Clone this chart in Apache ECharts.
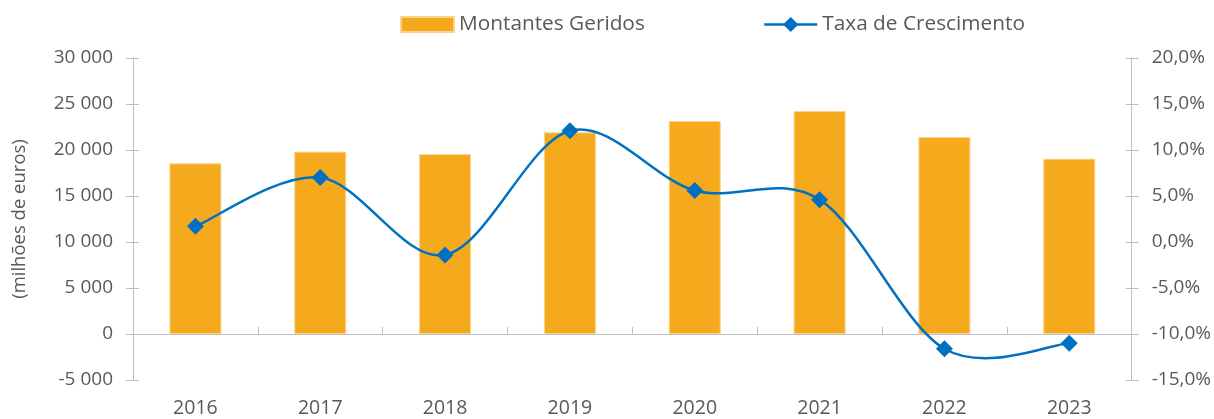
<!DOCTYPE html>
<html>
<head>
<meta charset="utf-8">
<script src="https://cdn.jsdelivr.net/npm/echarts@6/dist/echarts.min.js"></script>
<style>
  html, body { margin: 0; padding: 0; background: #fff; }
  #chart { width: 1214px; height: 419px; }
</style>
</head>
<body>
<div id="chart"></div>
<script>
// dados
var years = ["2016", "2017", "2018", "2019", "2020", "2021", "2022", "2023"];
var montantes = [18550, 19820, 19560, 21920, 23150, 24240, 21410, 19060];
var crescimento = [1.7, 7.0, -1.4, 12.1, 5.6, 4.6, -11.6, -11.0];

var textColor = "#595959";
var axisColor = "#bfbfbf";
var lineColor = "#0070C0";
var font = "Open Sans";

function fmtMilhares(v) {
  var s = String(Math.abs(v)).replace(/\B(?=(\d{3})+(?!\d))/g, " ");
  return (v < 0 ? "-" : "") + s;
}
function fmtPct(v) {
  return v.toFixed(1).replace(".", ",") + "%";
}

// curva suavizada (bezier tipo Excel) entre pontos consecutivos
function renderCurve(params, api) {
  var i = params.dataIndexInside;
  var n = params.dataInsideLength;
  if (i >= n - 1) return null;
  function pt(k) {
    k = Math.max(0, Math.min(n - 1, k));
    return api.coord([api.value(0, k), api.value(1, k)]);
  }
  var p0 = pt(i - 1), p1 = pt(i), p2 = pt(i + 1), p3 = pt(i + 2);
  var t = 1 / 6;
  return {
    type: "bezierCurve",
    shape: {
      x1: p1[0], y1: p1[1],
      x2: p2[0], y2: p2[1],
      cpx1: p1[0] + (p2[0] - p0[0]) * t,
      cpy1: p1[1] + (p2[1] - p0[1]) * t,
      cpx2: p2[0] - (p3[0] - p1[0]) * t,
      cpy2: p2[1] - (p3[1] - p1[1]) * t
    },
    style: { stroke: lineColor, lineWidth: 2.5, fill: null }
  };
}

var chart = echarts.init(document.getElementById("chart"));
chart.setOption({
  animation: false,
  textStyle: { fontFamily: font },
  legend: [
    {
      left: 395,
      top: 9,
      itemWidth: 53,
      itemHeight: 15,
      textStyle: { color: textColor, fontSize: 20.8, fontFamily: font },
      data: [{ name: "Montantes Geridos", icon: "rect" }]
    },
    {
      left: 758,
      top: 9,
      itemWidth: 53,
      itemHeight: 19,
      textStyle: { color: textColor, fontSize: 20.8, fontFamily: font },
      data: [{
        name: "Taxa de Crescimento",
        lineStyle: { color: lineColor, width: 2.5, opacity: 1 }
      }]
    }
  ],
  grid: { left: 133, right: 82, top: 58, bottom: 39 },
  xAxis: [
    {
      type: "category",
      data: years,
      position: "bottom",
      axisLine: { show: false, onZero: false },
      axisTick: { show: false },
      axisLabel: { color: textColor, fontSize: 19.5, margin: 18 }
    },
    {
      type: "category",
      data: years,
      axisLine: { onZero: true, onZeroAxisIndex: 0, lineStyle: { color: axisColor } },
      axisTick: { show: true, length: 7, lineStyle: { color: axisColor } },
      axisLabel: { show: false }
    },
    {
      type: "category",
      data: years,
      position: "bottom",
      axisLine: { show: false, onZero: true, onZeroAxisIndex: 0 },
      axisTick: { show: true, inside: true, length: 7, lineStyle: { color: axisColor } },
      axisLabel: { show: false }
    }
  ],
  yAxis: [
    {
      type: "value",
      min: -5000,
      max: 30000,
      interval: 5000,
      name: "(milhões de euros)",
      nameLocation: "middle",
      nameGap: 104,
      nameTextStyle: { color: textColor, fontSize: 18.5 },
      splitLine: { show: false },
      axisLine: { show: true, lineStyle: { color: axisColor } },
      axisTick: { show: true, length: 7, lineStyle: { color: axisColor } },
      axisLabel: { color: textColor, fontSize: 19, margin: 20, formatter: fmtMilhares }
    },
    {
      type: "value",
      min: -15,
      max: 20,
      interval: 5,
      position: "right",
      splitLine: { show: false },
      axisLine: { show: true, lineStyle: { color: axisColor } },
      axisTick: { show: true, length: 7, lineStyle: { color: axisColor } },
      axisLabel: { color: textColor, fontSize: 19, margin: 20, formatter: fmtPct }
    },
    {
      type: "value",
      min: -5000,
      max: 30000,
      interval: 5000,
      position: "left",
      splitLine: { show: false },
      axisLine: { show: false },
      axisTick: { show: true, inside: true, length: 6, lineStyle: { color: axisColor } },
      axisLabel: { show: false }
    },
    {
      type: "value",
      min: -15,
      max: 20,
      interval: 5,
      position: "right",
      splitLine: { show: false },
      axisLine: { show: false },
      axisTick: { show: true, inside: true, length: 6, lineStyle: { color: axisColor } },
      axisLabel: { show: false }
    }
  ],
  series: [
    {
      name: "Montantes Geridos",
      type: "bar",
      xAxisIndex: 0,
      yAxisIndex: 0,
      data: montantes,
      barWidth: 52,
      itemStyle: { color: "#F5AA1D", borderColor: "#FAD48E", borderWidth: 1 }
    },
    {
      name: "curva",
      type: "custom",
      xAxisIndex: 0,
      yAxisIndex: 1,
      silent: true,
      renderItem: renderCurve,
      data: crescimento.map(function (v, i) { return [i, v]; }),
      z: 4
    },
    {
      name: "Taxa de Crescimento",
      type: "line",
      xAxisIndex: 0,
      yAxisIndex: 1,
      data: crescimento,
      symbol: "diamond",
      symbolSize: 17,
      lineStyle: { color: lineColor, width: 2.5, opacity: 0 },
      itemStyle: { color: lineColor },
      z: 5
    }
  ]
});
</script>
</body>
</html>
